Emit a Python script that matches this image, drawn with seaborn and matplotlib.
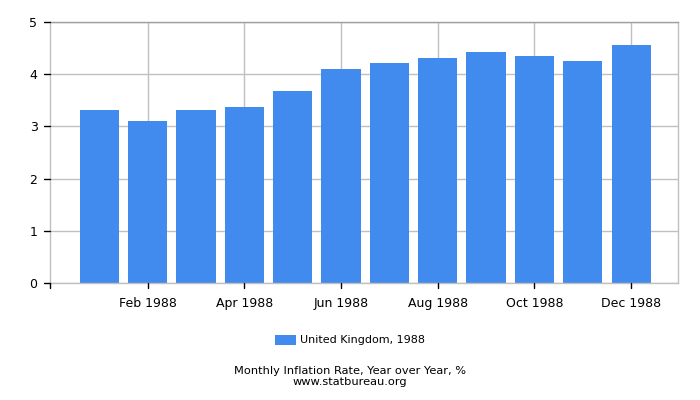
import pandas as pd
import seaborn as sns
import matplotlib.pyplot as plt
from matplotlib.patches import Patch
from matplotlib.lines import Line2D
from matplotlib.transforms import blended_transform_factory

# Monthly inflation, UK 1988
months = ["Jan 1988", "Feb 1988", "Mar 1988", "Apr 1988", "May 1988", "Jun 1988",
          "Jul 1988", "Aug 1988", "Sep 1988", "Oct 1988", "Nov 1988", "Dec 1988"]
values = [3.31, 3.10, 3.31, 3.37, 3.67, 4.10, 4.22, 4.31, 4.43, 4.35, 4.25, 4.56]
series_label = "United Kingdom, 1988"
y_ticks = [0, 1, 2, 3, 4, 5]

df = pd.DataFrame({"month": months, "rate": values})

sns.set_style("white")
plt.rcParams.update({
    "font.family": ["DejaVu Sans"],
    "text.color": "black",
    "xtick.color": "black",
    "ytick.color": "black",
})

fig = plt.figure(figsize=(7, 4), dpi=100)
ax_w, ax_h = 628, 261
ax = fig.add_axes([50 / 700, 1 - 283 / 400, ax_w / 700, ax_h / 400])

bar_color = "#418bee"
sns.barplot(data=df, x="month", y="rate", color=bar_color, width=0.81,
            saturation=1, linewidth=0, ax=ax, zorder=2)

ax.set_xlim(-1.02, 11.97)
ax.set_ylim(0, 5)
ax.set_yticks(y_ticks)
ax.set_yticklabels([str(t) for t in y_ticks], fontsize=9)

shown = list(range(1, 12, 2))
ax.set_xticks(shown)
ax.set_xticklabels([months[i] for i in shown], fontsize=9)
ax.set_xlabel("")
ax.set_ylabel("")
ax.tick_params(axis="y", length=0, pad=9, labelcolor="black")
ax.tick_params(axis="x", length=0, pad=10, labelcolor="black")

grid_c = "#c0c0c0"
for t in y_ticks:
    ax.axhline(t, color=grid_c, lw=1, zorder=1)
for i in shown:
    ax.axvline(i, color=grid_c, lw=1, zorder=1)

for side in ["left", "bottom", "right"]:
    ax.spines[side].set_color(grid_c)
    ax.spines[side].set_linewidth(1)
ax.spines["top"].set_color("#a0a0a0")
ax.spines["top"].set_linewidth(1)

# small black tick marks outside the axes, as in the reference
ytr = blended_transform_factory(ax.transAxes, ax.transData)
for t in y_ticks:
    ax.add_line(Line2D([-6 / ax_w, 0], [t, t], transform=ytr, color="black",
                       lw=1, clip_on=False, zorder=5))
xtr = blended_transform_factory(ax.transData, ax.transAxes)
for i in shown + [ax.get_xlim()[0]]:
    ax.add_line(Line2D([i, i], [-5 / ax_h, 0], transform=xtr, color="black",
                       lw=1, clip_on=False, zorder=5))

handle = Patch(facecolor=bar_color, edgecolor="none")
fig.legend([handle], [series_label], loc="center", bbox_to_anchor=(0.5, 1 - 340 / 400),
           frameon=False, fontsize=8, handlelength=1.9, handleheight=1.0,
           handletextpad=0.4)

fig.text(0.5, 1 - 371 / 400, "Monthly Inflation Rate, Year over Year, %",
         ha="center", va="center", fontsize=8.2)
fig.text(0.5, 1 - 382 / 400, "www.statbureau.org", ha="center", va="center",
         fontsize=8.2)

fig.savefig("out.png", dpi=100)
